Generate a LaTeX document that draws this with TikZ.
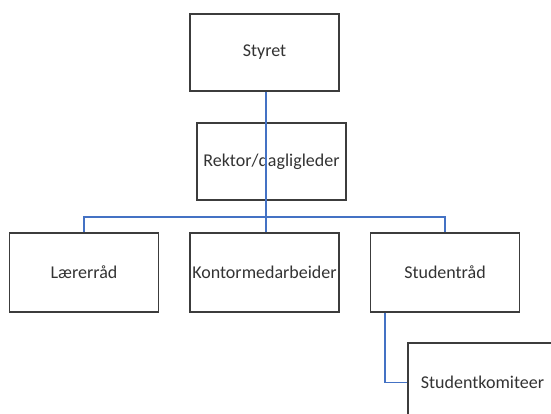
\documentclass[tikz,border=0pt]{standalone}
\usepackage{fontspec}
\setmainfont{Carlito}
\usepackage{tikz}
\definecolor{edge}{RGB}{60, 60, 60}
\definecolor{link}{RGB}{68, 114, 196}
\tikzset{
  unitbox/.style={draw=edge, line width=1.1pt, fill=white, inner sep=0pt,
    minimum width=149*0.75pt, minimum height=#1*0.75pt,
    font=\fontsize{13.5}{15}\selectfont, text=black!80},
  unitbox/.default=77,
  orgline/.style={draw=link, line width=1.1pt}
}

\begin{document}
\begin{tikzpicture}[x=0.75pt, y=-0.75pt]
  % Frame
  \useasboundingbox (0,0) rectangle (551,414);
  \clip (0,0) rectangle (551,414);

  % Top
  \node[unitbox] (styret) at (264.5,52.5) {Styret};
  \node[unitbox] (rektor) at (271.5,161.5) {Rektor/dagligleder};

  % Row
  \node[unitbox=79] (laerer) at (84,272.5) {Lærerråd};
  \node[unitbox=79] (kontor) at (264.5,272.5) {Kontormedarbeider};
  \node[unitbox=79] (studentraad) at (445,272.5) {Studentråd};
  \node[unitbox=79] (komite) at (482.5,382.5) {Studentkomiteer};

  % Lines
  \coordinate (bus) at (266,217);
  \coordinate (drop) at ([xshift=11.25pt]studentraad.south west);

  \draw[orgline] (styret.south -| bus) -- (kontor.north -| bus);
  \draw[orgline] (laerer.north) |- (bus) -| (studentraad.north);
  \draw[orgline] (drop) |- (komite.west);
\end{tikzpicture}
\end{document}
